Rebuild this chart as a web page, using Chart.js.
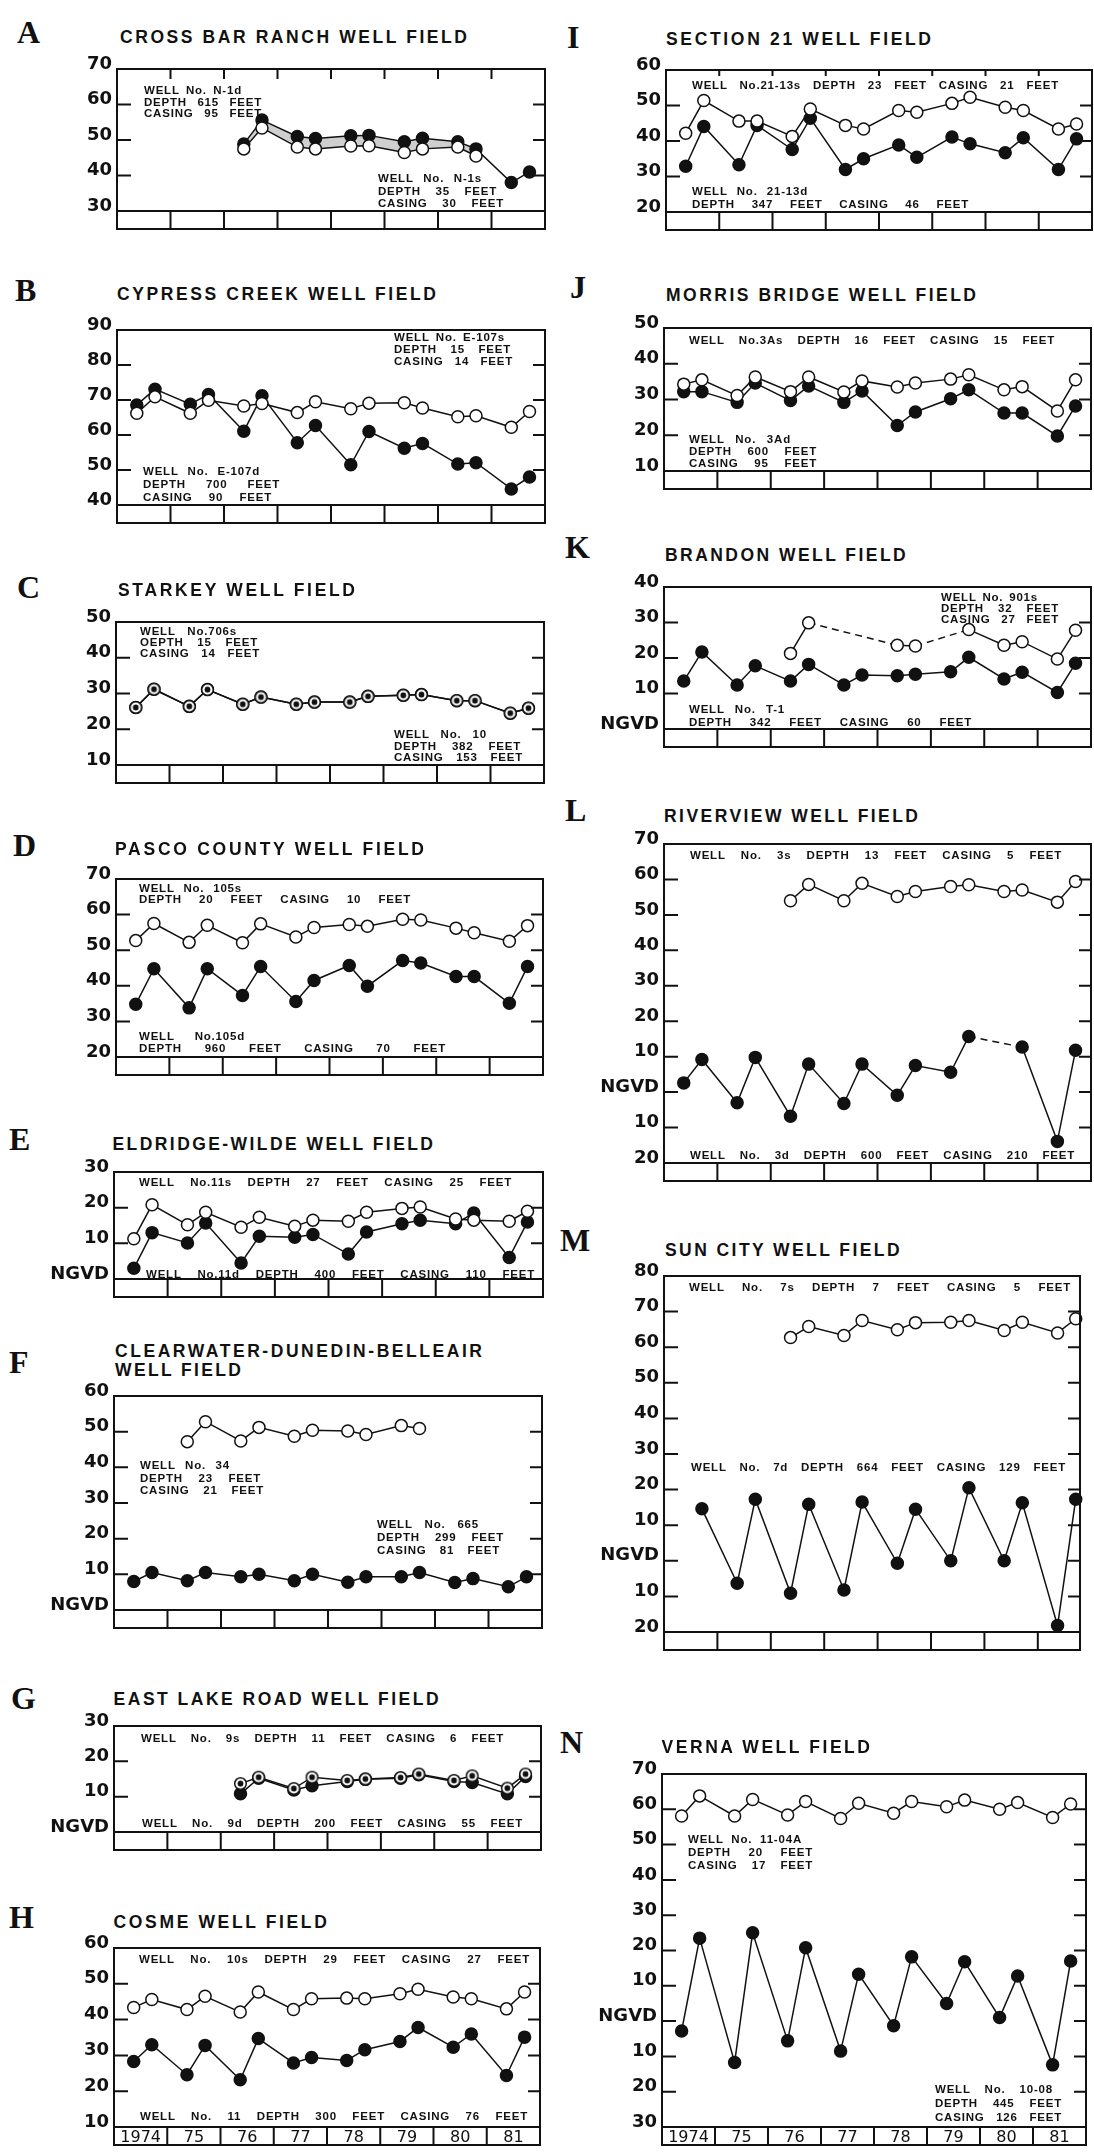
<!DOCTYPE html>
<html>
<head>
<meta charset="utf-8">
<script src="https://cdn.jsdelivr.net/npm/chart.js@4.4.1/dist/chart.umd.min.js"></script>
<style>
  body { margin: 0; background: #fff; }
  #page { position: relative; width: 1094px; height: 2154px; overflow: hidden; background: #fff; }
  canvas { position: absolute; }
  .letter { position: absolute; font-family: "Liberation Serif", "Times New Roman", serif; font-weight: bold;
            font-size: 32px; line-height: 32px; color: #111; white-space: nowrap; }
  .title { position: absolute; font-family: "Liberation Sans", Arial, sans-serif; font-weight: bold;
           font-size: 17.5px; line-height: 17.5px; color: #111; white-space: nowrap; }
  .note { position: absolute; font-family: "Liberation Sans", Arial, sans-serif; font-weight: bold;
          font-size: 11.5px; line-height: 12px; letter-spacing: 0.8px; color: #111; white-space: nowrap; }
</style>
</head>
<body>
<div id="page"></div>
<script>
// sampling dates: spring low / autumn high, two per year
const sampleDates = [1974.37, 1974.71, 1975.37, 1975.71, 1976.37, 1976.71, 1977.37, 1977.71,
                     1978.37, 1978.71, 1979.37, 1979.71, 1980.37, 1980.71, 1981.37, 1981.71];
const yearStarts = [1974, 1975, 1976, 1977, 1978, 1979, 1980, 1981];
const yearLabels = ["1974", "75", "76", "77", "78", "79", "80", "81"];

// water levels, feet (negative = below NGVD)
const aN1s = [null, null, null, null, 47.5, 53.4, 48, 47.5, 48.3, 48.4, 46.5, 47.5, 48, 45.5, null, null];
const aN1d = [null, null, null, null, 48.9, 55.6, 51, 50.4, 51.2, 51.3, 49.5, 50.5, 49.5, 47.5, 38, 41];
const bE107s = [66.2, 70.9, 66.2, 69.9, 68.3, 69, 66.4, 69.5, 67.5, 69.1, 69.2, 67.7, 65.2, 65.5, 62.2, 66.7];
const bE107d = [68.6, 73.1, 68.8, 71.6, 61.1, 71.2, 57.8, 62.7, 51.5, 61, 56.2, 57.6, 51.7, 52.1, 44.6, 48];
const c706s = [26.1, 31.2, 26.4, 31.1, 27, 29, 27, 27.6, 27.6, 29.2, 29.5, 29.7, 28, 28, 24.5, 25.9];
const c10 = [26.1, 31.2, 26.4, 31.1, 27, 29, 27, 27.6, 27.6, 29.2, 29.5, 29.7, 28, 28, 24.5, 25.9];
const d105s = [52.7, 57.5, 52.2, 57, 52.1, 57.4, 53.7, 56.4, 57.2, 56.7, 58.7, 58.5, 56.2, 54.9, 52.5, 56.9];
const d105d = [34.8, 44.8, 33.8, 44.8, 37.3, 45.4, 35.6, 41.5, 45.7, 39.9, 47.1, 46.4, 42.6, 42.6, 35.1, 45.4];
const e11s = [11.3, 20.8, 15.2, 18.7, 14.5, 17.3, 14.8, 16.5, 16.2, 18.7, 19.8, 20.2, 16.8, 16.5, 16.2, 19];
const e11d = [3, 13, 10.1, 15.7, 4.5, 12, 11.7, 12.5, 7, 13.2, 15.5, 16.5, 15.5, 18.5, 6, 16];
const f34 = [null, null, 47.2, 52.8, 47.4, 51.2, 48.7, 50.4, 50.2, 49.2, 51.7, 50.9, null, null, null, null];
const f665 = [8, 10.5, 8.2, 10.5, 9.3, 10, 8.2, 10, 7.8, 9.3, 9.3, 10.5, 7.7, 8.8, 6.5, 9.3];
const g9s = [null, null, null, null, 13.7, 15.5, 12.3, 15.5, 14.6, 15, 15.4, 16.4, 14.6, 15.9, 12.4, 16.4];
const g9d = [null, null, null, null, 10.8, 15.2, 11.9, 13.1, 14.3, 14.9, 15.2, 16.2, 14.3, 14, 10.8, 15.7];
const h10s = [43.4, 45.6, 42.8, 46.5, 42.1, 47.7, 42.8, 45.8, 46, 45.8, 47.2, 48.5, 46.3, 45.8, 43, 47.7];
const h11 = [28.3, 33, 24.6, 32.8, 23.2, 34.7, 27.9, 29.4, 28.6, 31.6, 33.9, 37.8, 32.3, 36, 24.4, 35.1];
const i13s = [42.2, 51.4, 45.6, 45.6, 41.3, 49, 44.4, 43.4, 48.6, 48.1, 50.6, 52.3, 49.5, 48.6, 43.4, 44.8];
const i13d = [32.9, 44.1, 33.3, 44.4, 37.6, 46.4, 32, 35, 38.9, 35.4, 41.1, 39.2, 36.7, 40.9, 32, 40.6];
const j3As = [34.3, 35.5, 31.1, 36.3, 32.2, 36.3, 32.1, 35.2, 33.5, 34.6, 35.7, 36.9, 32.7, 33.6, 26.8, 35.5];
const j3Ad = [32.2, 32.2, 29.2, 34.6, 29.7, 33.8, 29.2, 32.4, 22.7, 26.5, 30.2, 32.7, 26.2, 26.2, 19.8, 28.2];
const k901s = [null, null, null, null, 21.3, 29.9, null, null, 23.6, 23.4, null, 28, 23.6, 24.6, 19.7, 27.8];
const kT1 = [13.5, 21.7, 12.4, 17.8, 13.5, 18.2, 12.4, 15.2, 15, 15.4, 16.1, 20.2, 14.1, 16, 10.3, 18.5];
const l3s = [null, null, null, null, 54, 58.6, 54, 58.9, 55.2, 56.6, 58, 58.5, 56.6, 57, 53.6, 59.4];
const l3d = [2.6, 9.2, -3, 9.8, -6.8, 7.9, -3.2, 7.9, -0.9, 7.5, 5.6, 15.7, null, 12.7, -13.9, 11.8];
const m7s = [null, null, null, null, 62.7, 65.8, 63.3, 67.5, 64.9, 66.9, 67, 67.5, 64.7, 67, 64, 68];
const m7d = [null, 14.6, -6.3, 17.3, -9.1, 15.9, -8.2, 16.5, -0.7, 14.5, 0, 20.5, 0, 16.3, -18.2, 17.3];
const n1104A = [58.1, 63.8, 58.1, 62.8, 58.4, 62.2, 57.4, 61.7, 58.9, 62.2, 60.7, 62.6, 60, 61.9, 57.7, 61.5];
const n1008 = [-2.8, 23.5, -11.7, 25, -5.6, 20.8, -8.5, 13.3, -1.3, 18.2, 5, 16.8, 1, 12.8, -12.4, 17];

const page = document.getElementById("page");
const INK = "#111";

// open circle with a dot, for wells whose levels coincide
const ringImg = document.createElement("canvas");
ringImg.width = 15; ringImg.height = 15;
(function () {
  const c = ringImg.getContext("2d");
  c.beginPath(); c.arc(7.5, 7.5, 5.8, 0, 2 * Math.PI);
  c.fillStyle = "#fff"; c.fill(); c.lineWidth = 1.5; c.strokeStyle = INK; c.stroke();
  c.beginPath(); c.arc(7.5, 7.5, 2.9, 0, 2 * Math.PI); c.fillStyle = INK; c.fill();
})();

const panels = [
  { letter: ["A", 17, 22], L: 117, R: 545, T: 69, B: 211, yMin: 30, yMax: 70, topTicks: 10,
    titles: [["CROSS BAR RANCH WELL FIELD", 120, 31, 467]],
    notes: [{ x: 144, y: 86, dy: 11.6, lines: [["WELL No. N-1d", 242], ["DEPTH 615 FEET", 262], ["CASING 95 FEET", 262]] },
            { x: 378, y: 174, dy: 12.5, lines: [["WELL No. N-1s", 482], ["DEPTH 35 FEET", 497], ["CASING 30 FEET", 504]] }],
    series: [[aN1s, "open"], [aN1d, "filled", { band: true }]] },
  { letter: ["B", 15, 280], L: 117, R: 545, T: 330, B: 505, yMin: 40, yMax: 90,
    titles: [["CYPRESS CREEK WELL FIELD", 117, 288, 436]],
    notes: [{ x: 394, y: 333, dy: 12, lines: [["WELL No. E-107s", 505], ["DEPTH 15 FEET", 511], ["CASING 14 FEET", 513]] },
            { x: 143, y: 466.7, dy: 13, lines: [["WELL No. E-107d", 260], ["DEPTH 700 FEET", 280], ["CASING 90 FEET", 272]] }],
    series: [[bE107s, "open"], [bE107d, "filled"]] },
  { letter: ["C", 17, 577], L: 116, R: 544, T: 622, B: 765, yMin: 10, yMax: 50,
    titles: [["STARKEY WELL FIELD", 118, 583.6, 355]],
    notes: [{ x: 140, y: 627, dy: 11, lines: [["WELL No.706s", 237], ["OEPTH 15 FEET", 258], ["CASING 14 FEET", 260]] },
            { x: 394, y: 730, dy: 11.5, lines: [["WELL No. 10", 487], ["DEPTH 382 FEET", 521], ["CASING 153 FEET", 523]] }],
    series: [[c706s, "ring"], [c10, "filled"]] },
  { letter: ["D", 13, 835], L: 116, R: 543, T: 879, B: 1057, yMin: 20, yMax: 70,
    titles: [["PASCO COUNTY WELL FIELD", 115, 842.5, 424]],
    notes: [{ x: 139, y: 883.6, dy: 11.8, lines: [["WELL No. 105s", 242], ["DEPTH 20 FEET CASING 10 FEET", 411]] },
            { x: 139, y: 1031.8, dy: 11.8, lines: [["WELL No.105d", 245], ["DEPTH 960 FEET CASING 70 FEET", 446]] }],
    series: [[d105s, "open"], [d105d, "filled"]] },
  { letter: ["E", 9, 1129], L: 114, R: 543, T: 1172, B: 1279, yMin: 0, yMax: 30,
    titles: [["ELDRIDGE-WILDE WELL FIELD", 112.5, 1138, 433]],
    notes: [{ x: 139, y: 1177.5, lines: [["WELL No.11s DEPTH 27 FEET CASING 25 FEET", 512]] },
            { x: 146, y: 1270, lines: [["WELL No.11d DEPTH 400 FEET CASING 110 FEET", 535]] }],
    series: [[e11s, "open"], [e11d, "filled"]] },
  { letter: ["F", 9, 1352], L: 114, R: 542, T: 1396, B: 1610, yMin: 0, yMax: 60,
    titles: [["CLEARWATER-DUNEDIN-BELLEAIR", 115, 1345, 482], ["WELL FIELD", 115, 1364, 241]],
    notes: [{ x: 140, y: 1461.4, dy: 12.2, lines: [["WELL No. 34", 230], ["DEPTH 23 FEET", 261], ["CASING 21 FEET", 264]] },
            { x: 377, y: 1520, dy: 13, lines: [["WELL No. 665", 479], ["DEPTH 299 FEET", 504], ["CASING 81 FEET", 500]] }],
    series: [[f34, "open"], [f665, "filled"]] },
  { letter: ["G", 11, 1688], L: 114, R: 541, T: 1726, B: 1832, yMin: 0, yMax: 30,
    titles: [["EAST LAKE ROAD WELL FIELD", 113.6, 1693, 438.6]],
    notes: [{ x: 141, y: 1734, lines: [["WELL No. 9s DEPTH 11 FEET CASING 6 FEET", 504]] },
            { x: 142, y: 1819, lines: [["WELL No. 9d DEPTH 200 FEET CASING 55 FEET", 523]] }],
    series: [[g9s, "ring"], [g9d, "filled"]] },
  { letter: ["H", 9, 1907], L: 114, R: 540, T: 1948, B: 2127, yMin: 10, yMax: 60, years: true,
    titles: [["COSME WELL FIELD", 113.6, 1916, 326.8]],
    notes: [{ x: 139, y: 1955, lines: [["WELL No. 10s DEPTH 29 FEET CASING 27 FEET", 530]] },
            { x: 140, y: 2111.7, lines: [["WELL No. 11 DEPTH 300 FEET CASING 76 FEET", 528]] }],
    series: [[h10s, "open"], [h11, "filled"]] },
  { letter: ["I", 567, 27], L: 666, R: 1092, T: 70, B: 212, yMin: 20, yMax: 60, topTicks: 6,
    titles: [["SECTION 21 WELL FIELD", 666, 33, 931]],
    notes: [{ x: 692, y: 80.7, lines: [["WELL No.21-13s DEPTH 23 FEET CASING 21 FEET", 1059]] },
            { x: 692, y: 187.3, dy: 12.7, lines: [["WELL No. 21-13d", 808], ["DEPTH 347 FEET CASING 46 FEET", 969]] }],
    series: [[i13s, "open"], [i13d, "filled"]] },
  { letter: ["J", 570, 277], L: 664, R: 1091, T: 328, B: 471, yMin: 10, yMax: 50,
    titles: [["MORRIS BRIDGE WELL FIELD", 666, 289, 976]],
    notes: [{ x: 689, y: 335.7, lines: [["WELL No.3As DEPTH 16 FEET CASING 15 FEET", 1055]] },
            { x: 689, y: 435, dy: 12.2, lines: [["WELL No. 3Ad", 791], ["DEPTH 600 FEET", 817], ["CASING 95 FEET", 817]] }],
    series: [[j3As, "open"], [j3Ad, "filled"]] },
  { letter: ["K", 565, 537], L: 664, R: 1091, T: 587, B: 729, yMin: 0, yMax: 40,
    titles: [["BRANDON WELL FIELD", 665, 549, 905.7]],
    notes: [{ x: 941, y: 593.3, dy: 11, lines: [["WELL No. 901s", 1038], ["DEPTH 32 FEET", 1059], ["CASING 27 FEET", 1059]] },
            { x: 689, y: 705, dy: 13.3, lines: [["WELL No. T-1", 785], ["DEPTH 342 FEET CASING 60 FEET", 972]] }],
    series: [[k901s, "open", { gaps: true }], [kT1, "filled"]] },
  { letter: ["L", 565, 800], L: 664, R: 1091, T: 844, B: 1163, yMin: -20, yMax: 70,
    titles: [["RIVERVIEW WELL FIELD", 664, 810, 918]],
    notes: [{ x: 690, y: 850.7, lines: [["WELL No. 3s DEPTH 13 FEET CASING 5 FEET", 1062]] },
            { x: 690, y: 1150.7, lines: [["WELL No. 3d DEPTH 600 FEET CASING 210 FEET", 1075]] }],
    series: [[l3s, "open"], [l3d, "filled", { gaps: true }]] },
  { letter: ["M", 560, 1230], L: 664, R: 1080, T: 1276, B: 1632, yMin: -20, yMax: 80, xMax: 1981.79,
    titles: [["SUN CITY WELL FIELD", 665, 1244, 899.6]],
    notes: [{ x: 689, y: 1283.3, lines: [["WELL No. 7s DEPTH 7 FEET CASING 5 FEET", 1071]] },
            { x: 691, y: 1462.7, lines: [["WELL No. 7d DEPTH 664 FEET CASING 129 FEET", 1066]] }],
    series: [[m7s, "open"], [m7d, "filled"]] },
  { letter: ["N", 560, 1732], L: 662, R: 1086, T: 1774, B: 2127, yMin: -30, yMax: 70, years: true,
    titles: [["VERNA WELL FIELD", 661.5, 1741, 870]],
    notes: [{ x: 688, y: 1835, dy: 13, lines: [["WELL No. 11-04A", 802], ["DEPTH 20 FEET", 813], ["CASING 17 FEET", 813]] },
            { x: 935, y: 2085, dy: 14, lines: [["WELL No. 10-08", 1053], ["DEPTH 445 FEET", 1062], ["CASING 126 FEET", 1062]] }],
    series: [[n1104A, "open"], [n1008, "filled"]] }
];

// frame, inside ticks and the year strip under each plot
const framePlugin = {
  id: "frame",
  afterDatasetsDraw(chart, args, o) {
    const { ctx, chartArea: a } = chart;
    const x = chart.scales.x, y = chart.scales.y;
    ctx.save();
    ctx.strokeStyle = INK;
    ctx.lineWidth = 2;
    ctx.strokeRect(a.left, a.top, a.right - a.left, a.bottom + o.strip - a.top);
    ctx.beginPath();
    ctx.moveTo(a.left, a.bottom); ctx.lineTo(a.right, a.bottom);
    yearStarts.slice(1).forEach(yr => {
      const px = x.getPixelForValue(yr);
      ctx.moveTo(px, a.bottom); ctx.lineTo(px, a.bottom + o.strip);
      if (o.topTicks) { ctx.moveTo(px, a.top); ctx.lineTo(px, a.top + o.topTicks); }
    });
    y.ticks.forEach(t => {
      if (t.value <= y.min || t.value >= y.max) return;
      const py = y.getPixelForValue(t.value);
      ctx.moveTo(a.left, py); ctx.lineTo(a.left + 14, py);
      ctx.moveTo(a.right - 12, py); ctx.lineTo(a.right, py);
    });
    ctx.stroke();
    ctx.restore();
  }
};

function makeDataset(vals, kind, opt) {
  opt = opt || {};
  const ds = {
    data: sampleDates.map((d, i) => ({ x: d, y: vals[i] })),
    borderColor: INK,
    borderWidth: 1.5,
    pointRadius: 6,
    pointBorderWidth: 1.5,
    pointBorderColor: INK,
    pointBackgroundColor: kind === "filled" ? INK : "#fff",
    pointStyle: kind === "ring" ? ringImg : "circle",
    tension: 0,
    clip: false,
    fill: false,
    spanGaps: false
  };
  if (opt.gaps) {
    ds.spanGaps = true;
    ds.segment = { borderDash: ctx => (ctx.p0.skip || ctx.p1.skip) ? [7, 5] : undefined };
  }
  if (opt.band) {
    ds.fill = "-1";
    ds.backgroundColor = "#cfcfcf";
  }
  return ds;
}

function makePanel(p) {
  const padL = 70, padT = 16, padR = 10, padB = 2, strip = 18;
  const cw = Math.round(p.R - p.L) + padL + padR;
  const ch = Math.round(p.B - p.T) + padT + strip + padB;
  const cv = document.createElement("canvas");
  cv.width = cw; cv.height = ch;
  cv.style.width = cw + "px"; cv.style.height = ch + "px";
  cv.style.left = (Math.round(p.L) - padL) + "px";
  cv.style.top = (Math.round(p.T) - padT) + "px";
  page.appendChild(cv);

  new Chart(cv, {
    type: "line",
    data: { datasets: p.series.map(s => makeDataset(s[0], s[1], s[2])) },
    options: {
      responsive: false,
      animation: false,
      events: [],
      layout: { padding: { left: 0, top: padT, right: padR, bottom: padB } },
      plugins: {
        legend: { display: false },
        tooltip: { enabled: false },
        frame: { strip: strip, topTicks: p.topTicks || 0 }
      },
      scales: {
        x: {
          type: "linear",
          min: 1974,
          max: p.xMax || 1982,
          grid: { display: false, drawTicks: false },
          border: { display: false },
          afterBuildTicks: s => { s.ticks = yearStarts.map(v => ({ value: v + 0.5 })); },
          afterFit: s => { s.height = strip; },
          ticks: {
            autoSkip: false, maxRotation: 0, padding: 1, color: INK,
            font: { family: "DejaVu Sans", size: 16 },
            callback: (v, i) => p.years ? yearLabels[i] : ""
          }
        },
        y: {
          min: p.yMin,
          max: p.yMax,
          grid: { display: false, drawTicks: false },
          border: { display: false },
          afterFit: s => { s.width = padL; },
          ticks: {
            stepSize: 10, padding: 5, labelOffset: -5, color: INK,
            font: { family: "DejaVu Sans", size: 18, weight: "bold" },
            callback: v => v === 0 ? "NGVD" : String(Math.abs(v))
          }
        }
      }
    },
    plugins: [framePlugin]
  });
}

function addText(cls, txt, x, capTop, right, mode) {
  const el = document.createElement("div");
  el.className = cls;
  el.textContent = txt;
  el.style.left = x + "px";
  el.style.top = (capTop - 2) + "px";
  page.appendChild(el);
  if (right) {
    const w = el.getBoundingClientRect().width;
    const extra = right - x - w;
    if (mode === "letter") {
      el.style.letterSpacing = (extra / (txt.length - 1)) + "px";
    } else if (extra < 0) {
      el.style.letterSpacing = (0.8 + extra / txt.length) + "px";
    } else {
      const n = txt.split(" ").length - 1;
      if (n > 0) el.style.wordSpacing = (extra / n) + "px";
    }
  }
}

panels.forEach(p => {
  makePanel(p);
  const el = document.createElement("div");
  el.className = "letter";
  el.textContent = p.letter[0];
  el.style.left = p.letter[1] + "px";
  el.style.top = (p.letter[2] - 6) + "px";
  page.appendChild(el);
  p.titles.forEach(t => addText("title", t[0], t[1], t[2], t[3], "letter"));
  p.notes.forEach(n => {
    n.lines.forEach((ln, i) => addText("note", ln[0], n.x, n.y + i * (n.dy || 12), ln[1], "word"));
  });
});
</script>
</body>
</html>
